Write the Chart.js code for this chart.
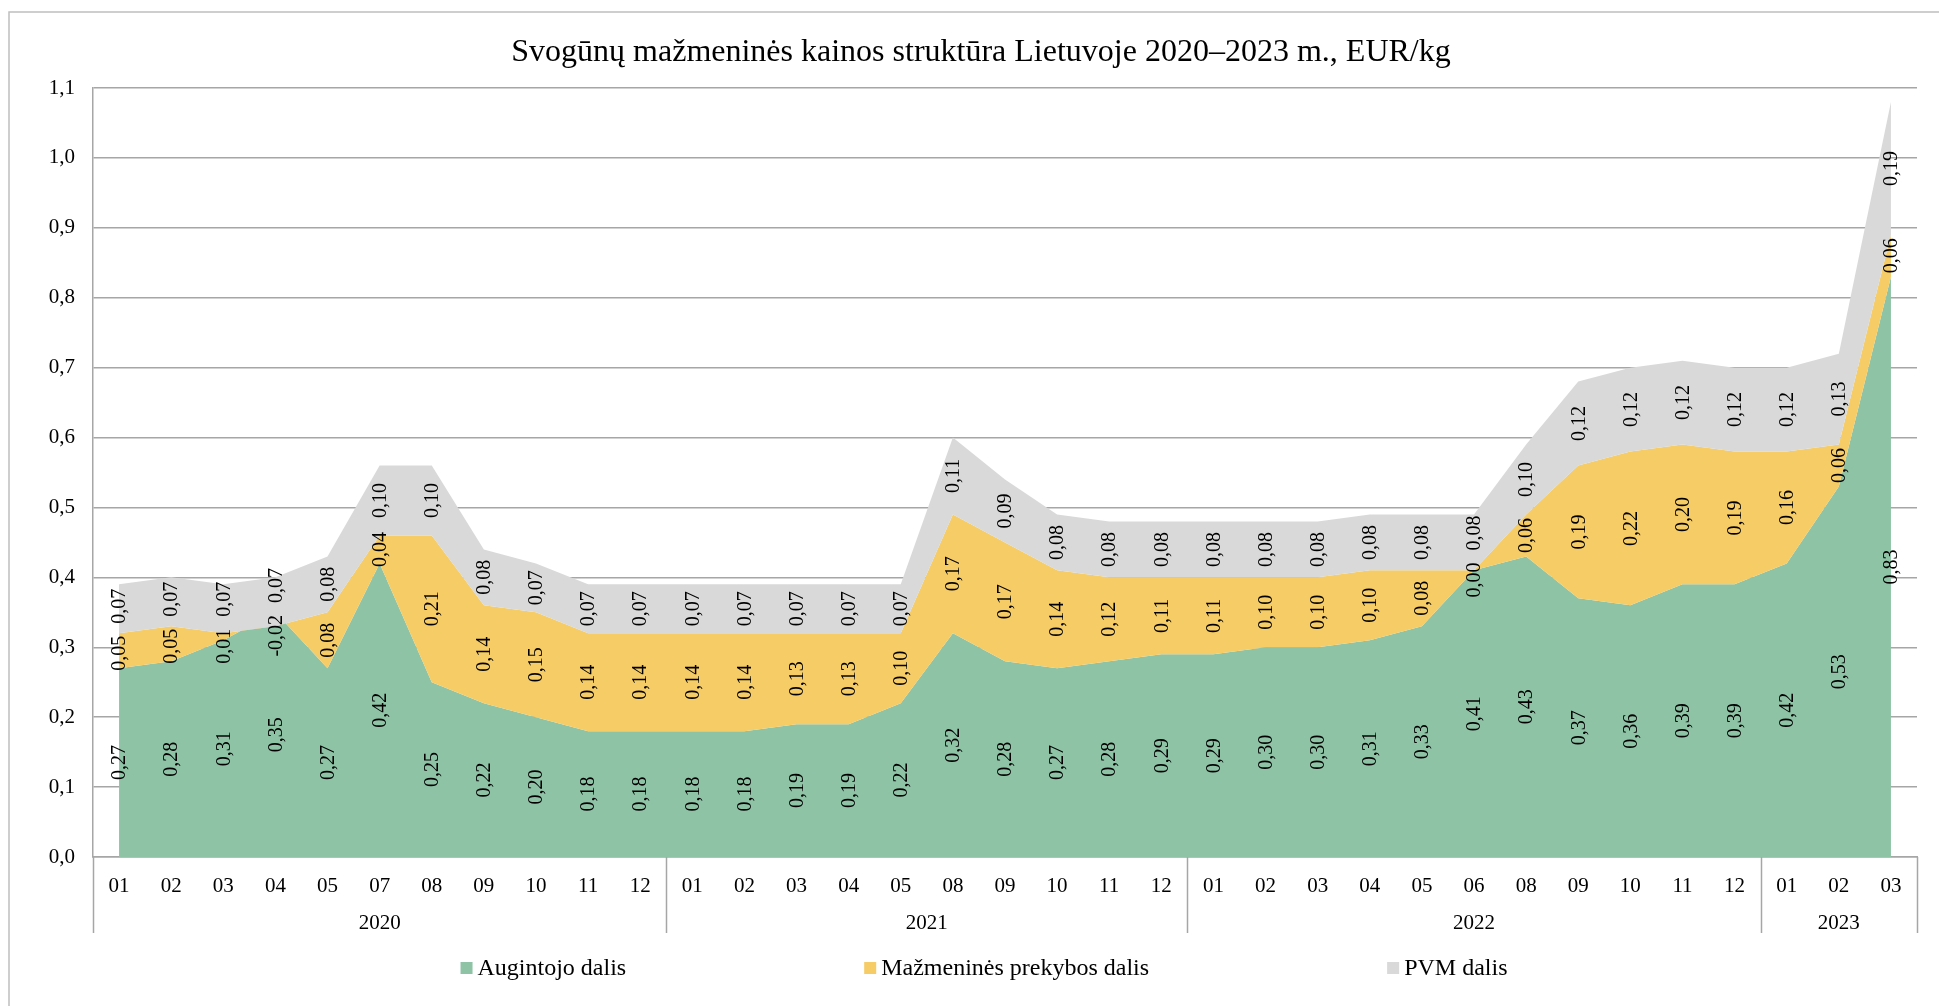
<!DOCTYPE html>
<html>
<head>
<meta charset="utf-8">
<script src="https://cdn.jsdelivr.net/npm/chart.js@4/dist/chart.umd.min.js"></script>
<style>
html,body{margin:0;padding:0;background:#fff;overflow:hidden}
canvas{display:block}
</style>
</head>
<body>
<canvas id="c" width="1939" height="1006"></canvas>
<script>
// ---- Data ----
const chartTitle = 'Svogūnų mažmeninės kainos struktūra Lietuvoje 2020–2023 m., EUR/kg';
const months = [
  '01','02','03','04','05','07','08','09','10','11','12',
  '01','02','03','04','05','08','09','10','11','12',
  '01','02','03','04','05','06','08','09','10','11','12',
  '01','02','03'
];
const years = ['2020','2021','2022','2023'];
const yearSpans = [11, 10, 11, 3];
const seriesNames = ['Augintojo dalis', 'Mažmeninės prekybos dalis', 'PVM dalis'];
const grower = [
  0.27,0.28,0.31,0.35,0.27,0.42,0.25,0.22,0.20,0.18,0.18,
  0.18,0.18,0.19,0.19,0.22,0.32,0.28,0.27,0.28,0.29,
  0.29,0.30,0.30,0.31,0.33,0.41,0.43,0.37,0.36,0.39,0.39,
  0.42,0.53,0.83
];
const retail = [
  0.05,0.05,0.01,-0.02,0.08,0.04,0.21,0.14,0.15,0.14,0.14,
  0.14,0.14,0.13,0.13,0.10,0.17,0.17,0.14,0.12,0.11,
  0.11,0.10,0.10,0.10,0.08,0.00,0.06,0.19,0.22,0.20,0.19,
  0.16,0.06,0.06
];
const vat = [
  0.07,0.07,0.07,0.07,0.08,0.10,0.10,0.08,0.07,0.07,0.07,
  0.07,0.07,0.07,0.07,0.07,0.11,0.09,0.08,0.08,0.08,
  0.08,0.08,0.08,0.08,0.08,0.08,0.10,0.12,0.12,0.12,0.12,
  0.12,0.13,0.19
];
const yMin = 0, yMax = 1.1, yStep = 0.1;

// ---- Styles ----
const FONT = "'Liberation Serif', 'Times New Roman', serif";
const colors = ['#8EC3A6', '#F5CC66', '#D9D9D9'];
const gridColor = '#A6A6A6';

// cumulative stacks (bottom -> top)
const cumRetail = grower.map((g, i) => +(g + retail[i]).toFixed(4));
const cumVat = cumRetail.map((r, i) => +(r + vat[i]).toFixed(4));
const seriesVals = [grower, retail, vat];
const bases = [grower.map(() => 0), grower, cumRetail];

const fmt = v => v.toFixed(2).replace('.', ',');

const decor = {
  id: 'decor',
  beforeDraw(chart) {
    const ctx = chart.ctx;
    ctx.save();
    ctx.fillStyle = '#fff';
    ctx.fillRect(0, 0, chart.width, chart.height);
    ctx.strokeStyle = '#BFBFBF';
    ctx.lineWidth = 1.5;
    ctx.strokeRect(9, 12, chart.width + 40, chart.height + 40);
    ctx.restore();
  },
  afterDatasetsDraw(chart) {
    const ctx = chart.ctx;
    const xs = chart.scales.x, ys = chart.scales.y;
    ctx.save();
    ctx.font = '20px ' + FONT;
    ctx.fillStyle = '#000';
    ctx.textAlign = 'center';
    ctx.textBaseline = 'middle';
    for (let i = 0; i < months.length; i++) {
      const x = xs.getPixelForValue(i);
      const items = [];
      for (let s = 0; s < 3; s++) {
        const v = seriesVals[s][i];
        const txt = fmt(v);
        items.push({ txt, y: ys.getPixelForValue(bases[s][i] + v / 2), w: ctx.measureText(txt).width });
      }
      // separate overlapping labels in the same column
      for (let it = 0; it < 6; it++) {
        for (let k = 0; k < items.length - 1; k++) {
          const lo = items[k], up = items[k + 1];
          const need = (lo.w + up.w) / 2 + 12;
          const diff = lo.y - up.y;
          if (diff < need) {
            const sh = (need - diff) / 2;
            lo.y += sh; up.y -= sh;
          }
        }
      }
      items.forEach(o => {
        ctx.save();
        ctx.translate(x, o.y);
        ctx.rotate(-Math.PI / 2);
        ctx.fillText(o.txt, 0, 1);
        ctx.restore();
      });
    }
    ctx.restore();
  },
  afterDraw(chart) {
    const ctx = chart.ctx;
    const xs = chart.scales.x;
    const area = chart.chartArea;
    ctx.save();
    // title
    ctx.font = '32px ' + FONT;
    ctx.fillStyle = '#000';
    ctx.textAlign = 'center';
    ctx.textBaseline = 'alphabetic';
    ctx.fillText(chartTitle, 981, 61);

    // year group separators and labels
    const n = months.length;
    const boundary = b => {
      if (b === 0) return xs.left;
      if (b === n) return xs.right;
      return (xs.getPixelForValue(b - 1) + xs.getPixelForValue(b)) / 2;
    };
    ctx.strokeStyle = gridColor;
    ctx.lineWidth = 1.5;
    let start = 0;
    const bounds = [0];
    yearSpans.forEach(sp => { start += sp; bounds.push(start); });
    bounds.forEach(b => {
      const x = Math.round(boundary(b)) + 0.5;
      ctx.beginPath();
      ctx.moveTo(x, area.bottom);
      ctx.lineTo(x, 933);
      ctx.stroke();
    });
    ctx.font = '21px ' + FONT;
    ctx.textBaseline = 'middle';
    years.forEach((yr, k) => {
      const x = (boundary(bounds[k]) + boundary(bounds[k + 1])) / 2;
      ctx.fillText(yr, x, 923);
    });

    // legend
    ctx.font = '24px ' + FONT;
    const box = 12, gap = 5, itemGap = 238;
    const widths = seriesNames.map(t => box + gap + ctx.measureText(t).width);
    const total = widths.reduce((a, b) => a + b, 0) + itemGap * (seriesNames.length - 1);
    let lx = 984 - total / 2;
    const ly = 968;
    ctx.textAlign = 'left';
    seriesNames.forEach((t, k) => {
      ctx.fillStyle = colors[k];
      ctx.fillRect(lx, ly - box / 2, box, box);
      ctx.fillStyle = '#000';
      ctx.fillText(t, lx + box + gap, ly + 1);
      lx += widths[k] + itemGap;
    });
    ctx.restore();
  }
};

const common = { pointRadius: 0, pointHoverRadius: 0, borderWidth: 0, borderColor: 'rgba(0,0,0,0)', tension: 0 };

new Chart(document.getElementById('c'), {
  type: 'line',
  data: {
    labels: months,
    datasets: [
      Object.assign({ label: seriesNames[2], data: cumVat, backgroundColor: colors[2], fill: '+1' }, common),
      Object.assign({ label: seriesNames[1], data: cumRetail, backgroundColor: colors[1], fill: '+1' }, common),
      Object.assign({ label: seriesNames[0], data: grower, backgroundColor: colors[0], fill: 'origin' }, common)
    ]
  },
  options: {
    responsive: false,
    animation: false,
    devicePixelRatio: 1,
    layout: { padding: { left: 0, right: 22, top: 88, bottom: 0 } },
    plugins: { legend: { display: false }, title: { display: false }, tooltip: { enabled: false } },
    scales: {
      x: {
        type: 'category',
        offset: true,
        grid: { display: false, drawTicks: false },
        border: { display: true, color: gridColor, width: 1.5 },
        ticks: { autoSkip: false, maxRotation: 0, minRotation: 0, padding: 17, color: '#000', font: { family: FONT, size: 21 } },
        afterFit(scale) { scale.height = 149; }
      },
      y: {
        min: yMin, max: yMax,
        grid: { color: gridColor, lineWidth: 1.5, drawTicks: false },
        border: { display: true, color: gridColor, width: 1.5 },
        ticks: {
          stepSize: yStep, padding: 18, color: '#000', font: { family: FONT, size: 21 },
          callback: v => v.toFixed(1).replace('.', ',')
        },
        afterFit(scale) { scale.width = 93; }
      }
    }
  },
  plugins: [decor]
});
</script>
</body>
</html>
